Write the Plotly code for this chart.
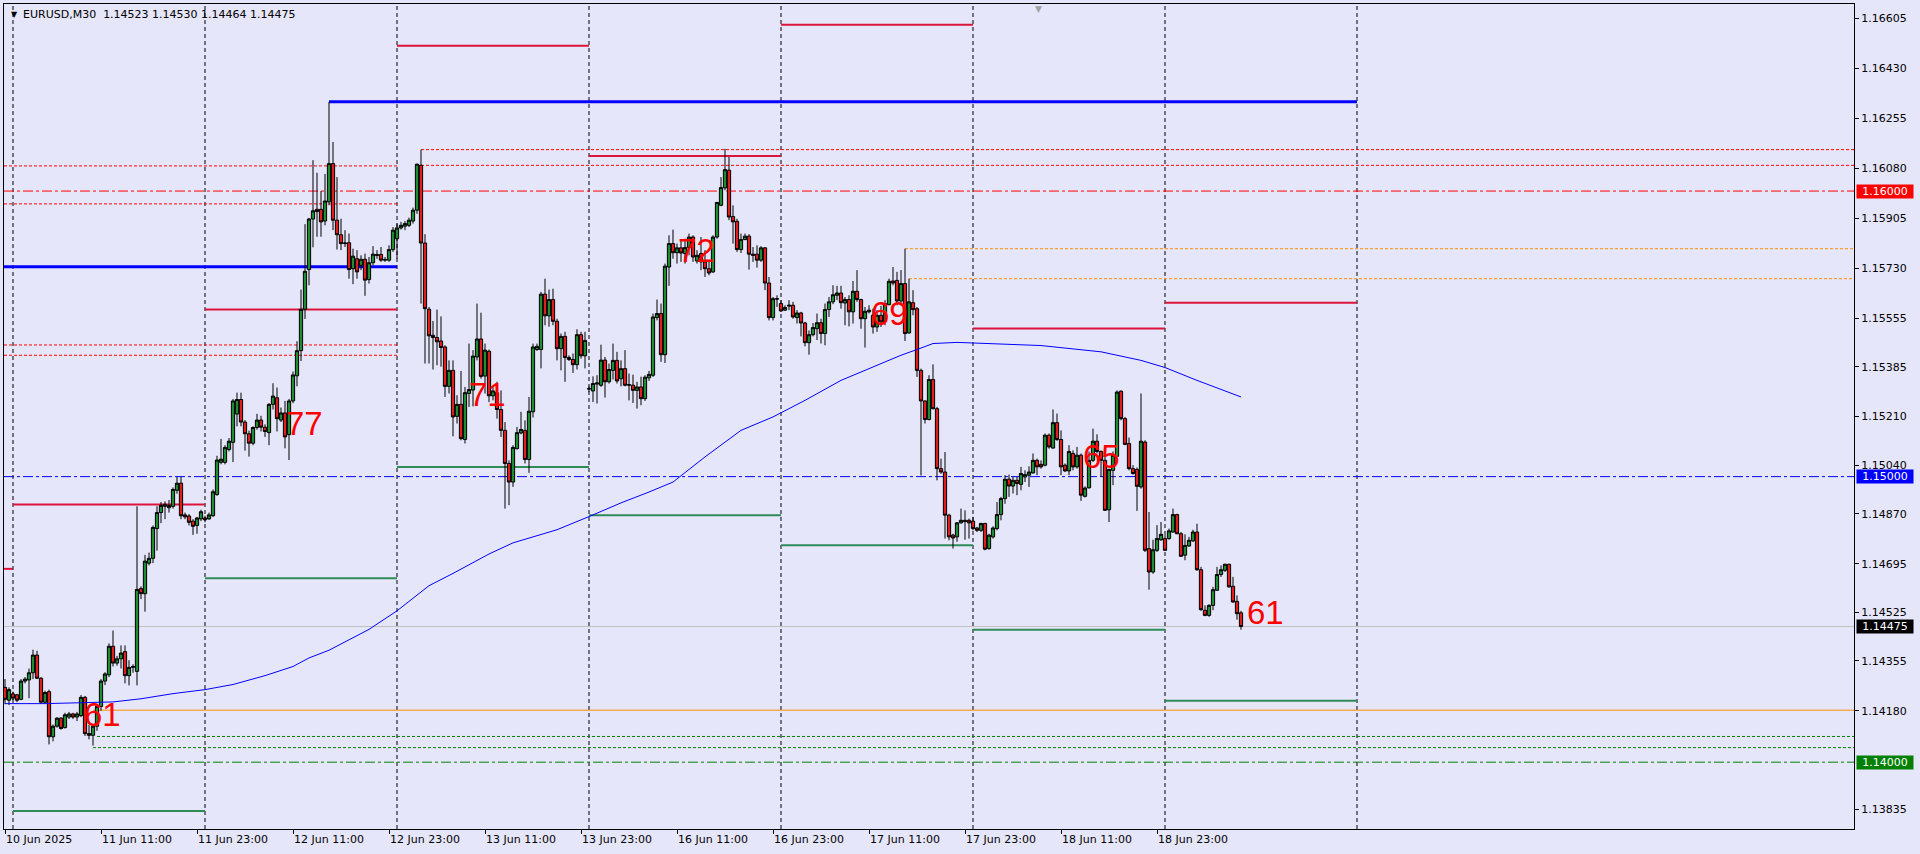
import pandas as pd
import plotly.graph_objects as go

# ---------------- data ----------------
symbol = "EURUSD,M30"

opens = [
 1.14262, 1.14217, 1.14239, 1.14236, 1.14220, 1.14284, 1.14288, 1.14313, 1.14375, 1.14294,
 1.14210, 1.14247, 1.14089, 1.14126, 1.14154, 1.14121, 1.14158, 1.14169, 1.14158, 1.14163,
 1.14227, 1.14100, 1.14094, 1.14126, 1.14195, 1.14284, 1.14306, 1.14406, 1.14347, 1.14362,
 1.14387, 1.14303, 1.14332, 1.14318, 1.14608, 1.14590, 1.14697, 1.14714, 1.14818, 1.14874,
 1.14896, 1.14891, 1.14896, 1.14952, 1.14977, 1.14866, 1.14862, 1.14844, 1.14829, 1.14852,
 1.14855, 1.14852, 1.14863, 1.14937, 1.15050, 1.15050, 1.15095, 1.15120, 1.15219, 1.15270,
 1.15191, 1.15150, 1.15117, 1.15172, 1.15198, 1.15173, 1.15154, 1.15253, 1.15276, 1.15198,
 1.15223, 1.15147, 1.15265, 1.15353, 1.15441, 1.15586, 1.15725, 1.15902, 1.15936, 1.15936,
 1.15895, 1.15962, 1.16096, 1.15898, 1.15847, 1.15816, 1.15819, 1.15728, 1.15763, 1.15740,
 1.15761, 1.15690, 1.15749, 1.15778, 1.15778, 1.15758, 1.15758, 1.15795, 1.15833, 1.15871,
 1.15877, 1.15880, 1.15895, 1.15933, 1.16090, 1.15818, 1.15586, 1.15495, 1.15487, 1.15475,
 1.15454, 1.15316, 1.15372, 1.15211, 1.15253, 1.15130, 1.15291, 1.15303, 1.15419, 1.15482,
 1.15352, 1.15439, 1.15283, 1.15294, 1.15235, 1.15162, 1.15046, 1.14981, 1.15098, 1.15153,
 1.15162, 1.15060, 1.15227, 1.15445, 1.15445, 1.15639, 1.15563, 1.15620, 1.15544, 1.15448,
 1.15491, 1.15417, 1.15410, 1.15392, 1.15497, 1.15423, 1.15308, 1.15300, 1.15324, 1.15320,
 1.15408, 1.15332, 1.15372, 1.15407, 1.15343, 1.15378, 1.15320, 1.15320, 1.15302, 1.15314,
 1.15273, 1.15346, 1.15355, 1.15557, 1.15571, 1.15427, 1.15734, 1.15816, 1.15784, 1.15801,
 1.15781, 1.15802, 1.15839, 1.15755, 1.15781, 1.15752, 1.15728, 1.15717, 1.15839, 1.15950,
 1.16011, 1.16073, 1.15911, 1.15894, 1.15795, 1.15830, 1.15842, 1.15779, 1.15779, 1.15758,
 1.15801, 1.15678, 1.15557, 1.15623, 1.15606, 1.15583, 1.15597, 1.15600, 1.15557, 1.15573,
 1.15538, 1.15469, 1.15497, 1.15518, 1.15539, 1.15501, 1.15585, 1.15612, 1.15635, 1.15643,
 1.15608, 1.15620, 1.15577, 1.15649, 1.15620, 1.15553, 1.15577, 1.15565, 1.15524, 1.15565,
 1.15542, 1.15602, 1.15685, 1.15687, 1.15615, 1.15676, 1.15503, 1.15609, 1.15588, 1.15372,
 1.15265, 1.15200, 1.15340, 1.15238, 1.15028, 1.15016, 1.14865, 1.14795, 1.14789, 1.14838,
 1.14847, 1.14847, 1.14844, 1.14820, 1.14812, 1.14836, 1.14748, 1.14789, 1.14818, 1.14867,
 1.14923, 1.14991, 1.14967, 1.14987, 1.14973, 1.14999, 1.15005, 1.15013, 1.15057, 1.15043,
 1.15040, 1.15145, 1.15100, 1.15189, 1.15130, 1.15040, 1.15020, 1.15081, 1.15034, 1.15075,
 1.14931, 1.14961, 1.15057, 1.15124, 1.15088, 1.15057, 1.14884, 1.15022, 1.15071, 1.15299,
 1.15203, 1.15116, 1.15028, 1.15025, 1.14964, 1.15121, 1.14748, 1.14666, 1.14742, 1.14779,
 1.14783, 1.14783, 1.14806, 1.14867, 1.14800, 1.14725, 1.14757, 1.14775, 1.14806, 1.14674,
 1.14532, 1.14514, 1.14549, 1.14602, 1.14657, 1.14672, 1.14693, 1.14616, 1.14563, 1.14523,
]

highs = [
 1.14291, 1.14262, 1.14247, 1.14239, 1.14291, 1.14298, 1.14328, 1.14394, 1.14390, 1.14298,
 1.14250, 1.14254, 1.14132, 1.14158, 1.14158, 1.14173, 1.14176, 1.14173, 1.14176, 1.14235,
 1.14232, 1.14130, 1.14130, 1.14200, 1.14291, 1.14315, 1.14416, 1.14461, 1.14372, 1.14409,
 1.14409, 1.14357, 1.14343, 1.14896, 1.14616, 1.14726, 1.14734, 1.14829, 1.14896, 1.14911,
 1.14913, 1.14918, 1.14962, 1.14999, 1.14999, 1.14874, 1.14869, 1.14851, 1.14859, 1.14884,
 1.14863, 1.14874, 1.14955, 1.15073, 1.15132, 1.15110, 1.15135, 1.15272, 1.15294, 1.15294,
 1.15198, 1.15161, 1.15176, 1.15220, 1.15213, 1.15183, 1.15257, 1.15327, 1.15312, 1.15242,
 1.15265, 1.15272, 1.15368, 1.15474, 1.15655, 1.15884, 1.15906, 1.16108, 1.16064, 1.16000,
 1.16060, 1.16312, 1.16172, 1.16049, 1.15903, 1.15863, 1.15851, 1.15798, 1.15793, 1.15775,
 1.15781, 1.15769, 1.15807, 1.15793, 1.15804, 1.15769, 1.15810, 1.15874, 1.15886, 1.15892,
 1.15895, 1.15907, 1.15942, 1.16096, 1.16145, 1.15849, 1.15594, 1.15545, 1.15585, 1.15561,
 1.15460, 1.15407, 1.15407, 1.15285, 1.15370, 1.15314, 1.15466, 1.15443, 1.15606, 1.15574,
 1.15466, 1.15445, 1.15314, 1.15332, 1.15302, 1.15191, 1.15057, 1.15110, 1.15174, 1.15227,
 1.15197, 1.15279, 1.15466, 1.15466, 1.15647, 1.15693, 1.15655, 1.15658, 1.15553, 1.15501,
 1.15507, 1.15425, 1.15431, 1.15516, 1.15507, 1.15507, 1.15316, 1.15351, 1.15355, 1.15462,
 1.15419, 1.15396, 1.15466, 1.15437, 1.15407, 1.15443, 1.15361, 1.15357, 1.15332, 1.15350,
 1.15355, 1.15370, 1.15571, 1.15620, 1.15606, 1.15746, 1.15845, 1.15865, 1.15816, 1.15828,
 1.15833, 1.15851, 1.15845, 1.15793, 1.15839, 1.15793, 1.15752, 1.15845, 1.15962, 1.16049,
 1.16148, 1.16119, 1.15950, 1.15903, 1.15851, 1.15851, 1.15849, 1.15804, 1.15810, 1.15807,
 1.15804, 1.15699, 1.15629, 1.15635, 1.15618, 1.15600, 1.15618, 1.15612, 1.15583, 1.15577,
 1.15542, 1.15512, 1.15538, 1.15571, 1.15553, 1.15606, 1.15629, 1.15670, 1.15668, 1.15668,
 1.15629, 1.15635, 1.15685, 1.15723, 1.15623, 1.15594, 1.15600, 1.15588, 1.15583, 1.15598,
 1.15618, 1.15693, 1.15734, 1.15717, 1.15723, 1.15798, 1.15693, 1.15653, 1.15594, 1.15378,
 1.15267, 1.15355, 1.15393, 1.15244, 1.15063, 1.15086, 1.14870, 1.14800, 1.14841, 1.14888,
 1.14882, 1.14853, 1.14859, 1.14824, 1.14838, 1.14838, 1.14800, 1.14826, 1.14911, 1.14929,
 1.15005, 1.15007, 1.14999, 1.14999, 1.15034, 1.15022, 1.15036, 1.15081, 1.15063, 1.15057,
 1.15151, 1.15151, 1.15235, 1.15221, 1.15162, 1.15046, 1.15110, 1.15092, 1.15104, 1.15081,
 1.14966, 1.15088, 1.15168, 1.15148, 1.15092, 1.15069, 1.15028, 1.15088, 1.15302, 1.15302,
 1.15209, 1.15137, 1.15040, 1.15032, 1.15291, 1.15127, 1.14876, 1.14779, 1.14830, 1.14841,
 1.14795, 1.14818, 1.14888, 1.14870, 1.14806, 1.14798, 1.14789, 1.14814, 1.14835, 1.14684,
 1.14549, 1.14553, 1.14614, 1.14684, 1.14689, 1.14695, 1.14695, 1.14649, 1.14584, 1.14530,
]

lows = [
 1.14203, 1.14200, 1.14217, 1.14210, 1.14217, 1.14276, 1.14224, 1.14291, 1.14291, 1.14205,
 1.14205, 1.14062, 1.14073, 1.14121, 1.14114, 1.14118, 1.14151, 1.14151, 1.14144, 1.14158,
 1.14092, 1.14080, 1.14058, 1.14110, 1.14180, 1.14270, 1.14298, 1.14335, 1.14338, 1.14328,
 1.14276, 1.14269, 1.14313, 1.14269, 1.14571, 1.14527, 1.14689, 1.14697, 1.14741, 1.14837,
 1.14851, 1.14874, 1.14888, 1.14940, 1.14851, 1.14851, 1.14829, 1.14796, 1.14800, 1.14844,
 1.14840, 1.14849, 1.14859, 1.14933, 1.15043, 1.15043, 1.15088, 1.15051, 1.15176, 1.15176,
 1.15091, 1.15070, 1.15110, 1.15164, 1.15158, 1.15139, 1.15110, 1.15235, 1.15158, 1.15191,
 1.15099, 1.15058, 1.15257, 1.15316, 1.15405, 1.15552, 1.15670, 1.15803, 1.15840, 1.15840,
 1.15880, 1.15950, 1.15863, 1.15795, 1.15793, 1.15804, 1.15693, 1.15674, 1.15693, 1.15723,
 1.15633, 1.15676, 1.15740, 1.15763, 1.15752, 1.15752, 1.15752, 1.15787, 1.15763, 1.15865,
 1.15863, 1.15874, 1.15886, 1.15920, 1.15606, 1.15396, 1.15396, 1.15375, 1.15390, 1.15385,
 1.15279, 1.15291, 1.15141, 1.15186, 1.15127, 1.15116, 1.15244, 1.15246, 1.15407, 1.15343,
 1.15291, 1.15261, 1.15267, 1.15203, 1.15139, 1.14888, 1.14900, 1.14964, 1.15095, 1.15148,
 1.15046, 1.15013, 1.15207, 1.15440, 1.15379, 1.15530, 1.15525, 1.15530, 1.15407, 1.15372,
 1.15332, 1.15405, 1.15363, 1.15375, 1.15413, 1.15379, 1.15297, 1.15261, 1.15256, 1.15314,
 1.15277, 1.15326, 1.15340, 1.15326, 1.15316, 1.15316, 1.15267, 1.15258, 1.15238, 1.15250,
 1.15265, 1.15335, 1.15349, 1.15547, 1.15402, 1.15398, 1.15668, 1.15763, 1.15746, 1.15752,
 1.15746, 1.15775, 1.15752, 1.15746, 1.15723, 1.15699, 1.15705, 1.15713, 1.15833, 1.15947,
 1.16003, 1.15898, 1.15816, 1.15787, 1.15783, 1.15828, 1.15725, 1.15752, 1.15732, 1.15752,
 1.15653, 1.15547, 1.15547, 1.15594, 1.15577, 1.15580, 1.15583, 1.15553, 1.15536, 1.15491,
 1.15456, 1.15427, 1.15491, 1.15478, 1.15466, 1.15460, 1.15559, 1.15604, 1.15618, 1.15588,
 1.15530, 1.15526, 1.15536, 1.15612, 1.15518, 1.15452, 1.15571, 1.15501, 1.15507, 1.15524,
 1.15530, 1.15600, 1.15670, 1.15600, 1.15600, 1.15475, 1.15501, 1.15565, 1.15349, 1.15004,
 1.15186, 1.15197, 1.15235, 1.14987, 1.15010, 1.14783, 1.14777, 1.14748, 1.14772, 1.14835,
 1.14779, 1.14783, 1.14812, 1.14806, 1.14806, 1.14742, 1.14744, 1.14783, 1.14812, 1.14847,
 1.14905, 1.14929, 1.14941, 1.14935, 1.14952, 1.14981, 1.14964, 1.15011, 1.15005, 1.15028,
 1.15036, 1.15098, 1.15098, 1.15125, 1.15005, 1.15016, 1.15005, 1.15022, 1.15028, 1.14915,
 1.14927, 1.14958, 1.15051, 1.15081, 1.14999, 1.14880, 1.14841, 1.14970, 1.15069, 1.15197,
 1.15110, 1.15022, 1.15007, 1.14880, 1.14958, 1.14736, 1.14604, 1.14660, 1.14736, 1.14775,
 1.14740, 1.14779, 1.14803, 1.14798, 1.14719, 1.14707, 1.14754, 1.14771, 1.14670, 1.14530,
 1.14511, 1.14509, 1.14532, 1.14600, 1.14649, 1.14666, 1.14611, 1.14558, 1.14499, 1.14464,
]

closes = [
 1.14220, 1.14254, 1.14224, 1.14217, 1.14284, 1.14291, 1.14313, 1.14375, 1.14294, 1.14210,
 1.14244, 1.14089, 1.14126, 1.14154, 1.14118, 1.14166, 1.14169, 1.14158, 1.14169, 1.14227,
 1.14100, 1.14094, 1.14126, 1.14195, 1.14284, 1.14309, 1.14406, 1.14347, 1.14362, 1.14382,
 1.14303, 1.14332, 1.14335, 1.14605, 1.14590, 1.14704, 1.14714, 1.14822, 1.14874, 1.14899,
 1.14903, 1.14899, 1.14955, 1.14977, 1.14863, 1.14859, 1.14840, 1.14826, 1.14855, 1.14877,
 1.14849, 1.14866, 1.14947, 1.15058, 1.15061, 1.15102, 1.15124, 1.15265, 1.15270, 1.15191,
 1.15150, 1.15117, 1.15172, 1.15198, 1.15173, 1.15158, 1.15253, 1.15282, 1.15203, 1.15223,
 1.15139, 1.15265, 1.15356, 1.15441, 1.15586, 1.15719, 1.15902, 1.15931, 1.15928, 1.15892,
 1.15965, 1.16096, 1.15898, 1.15847, 1.15816, 1.15818, 1.15725, 1.15772, 1.15717, 1.15761,
 1.15688, 1.15749, 1.15779, 1.15775, 1.15758, 1.15760, 1.15795, 1.15863, 1.15871, 1.15880,
 1.15886, 1.15898, 1.15933, 1.16094, 1.15818, 1.15588, 1.15493, 1.15487, 1.15472, 1.15452,
 1.15316, 1.15372, 1.15209, 1.15253, 1.15133, 1.15294, 1.15305, 1.15422, 1.15482, 1.15351,
 1.15443, 1.15283, 1.15300, 1.15235, 1.15162, 1.15046, 1.14981, 1.15102, 1.15154, 1.15165,
 1.15060, 1.15229, 1.15454, 1.15456, 1.15639, 1.15563, 1.15620, 1.15544, 1.15448, 1.15491,
 1.15417, 1.15410, 1.15392, 1.15497, 1.15423, 1.15477, 1.15307, 1.15326, 1.15328, 1.15408,
 1.15332, 1.15375, 1.15407, 1.15335, 1.15378, 1.15320, 1.15322, 1.15302, 1.15314, 1.15273,
 1.15348, 1.15358, 1.15559, 1.15571, 1.15427, 1.15737, 1.15816, 1.15784, 1.15801, 1.15783,
 1.15802, 1.15839, 1.15769, 1.15775, 1.15752, 1.15728, 1.15713, 1.15839, 1.15960, 1.16012,
 1.16075, 1.15909, 1.15892, 1.15795, 1.15830, 1.15842, 1.15779, 1.15775, 1.15758, 1.15801,
 1.15678, 1.15557, 1.15623, 1.15622, 1.15580, 1.15592, 1.15600, 1.15559, 1.15573, 1.15538,
 1.15469, 1.15497, 1.15522, 1.15539, 1.15501, 1.15585, 1.15612, 1.15637, 1.15643, 1.15609,
 1.15620, 1.15577, 1.15649, 1.15620, 1.15553, 1.15579, 1.15583, 1.15524, 1.15565, 1.15542,
 1.15606, 1.15684, 1.15678, 1.15615, 1.15676, 1.15501, 1.15612, 1.15585, 1.15372, 1.15265,
 1.15200, 1.15340, 1.15238, 1.15028, 1.15016, 1.14865, 1.14789, 1.14785, 1.14838, 1.14847,
 1.14843, 1.14838, 1.14818, 1.14812, 1.14836, 1.14746, 1.14795, 1.14820, 1.14867, 1.14923,
 1.14991, 1.14967, 1.14987, 1.14976, 1.15011, 1.15007, 1.15016, 1.15057, 1.15034, 1.15034,
 1.15145, 1.15104, 1.15189, 1.15130, 1.15034, 1.15020, 1.15088, 1.15034, 1.15075, 1.14935,
 1.14960, 1.15057, 1.15124, 1.15088, 1.15057, 1.14882, 1.15025, 1.15075, 1.15296, 1.15203,
 1.15113, 1.15028, 1.15011, 1.14966, 1.15124, 1.14742, 1.14666, 1.14744, 1.14783, 1.14798,
 1.14742, 1.14810, 1.14867, 1.14800, 1.14721, 1.14759, 1.14777, 1.14806, 1.14674, 1.14534,
 1.14514, 1.14549, 1.14604, 1.14657, 1.14674, 1.14693, 1.14614, 1.14561, 1.14520, 1.14475,
]

# moving average, read at selected bars (bar number, value)
ma_bar = [0, 10, 27, 34, 42, 50, 57, 65, 72, 76, 81, 91, 98, 106, 112, 121, 127, 138, 146,
          154, 161, 167, 175, 184, 192, 200, 209, 217, 224, 228, 232, 238, 245, 259, 274,
          284, 290, 298, 309]
ma_val = [1.14205, 1.14205, 1.14211, 1.14222, 1.14240, 1.14254, 1.14272, 1.14303, 1.14335,
          1.14365, 1.14392, 1.14465, 1.14530, 1.14618, 1.14661, 1.14729, 1.14768, 1.14814,
          1.14860, 1.14908, 1.14946, 1.14981, 1.15069, 1.15162, 1.15209, 1.15267, 1.15337,
          1.15384, 1.15425, 1.15445, 1.15466, 1.15470, 1.15466, 1.15459, 1.15437, 1.15407,
          1.15382, 1.15337, 1.15279]

# time axis labels
tick_times = ["2025-06-10 23:00", "2025-06-11 11:00", "2025-06-11 23:00", "2025-06-12 11:00",
              "2025-06-12 23:00", "2025-06-13 11:00", "2025-06-13 23:00", "2025-06-16 11:00",
              "2025-06-16 23:00", "2025-06-17 11:00", "2025-06-17 23:00", "2025-06-18 11:00",
              "2025-06-18 23:00"]
tick_text = ["10 Jun 2025", "11 Jun 11:00", "11 Jun 23:00", "12 Jun 11:00", "12 Jun 23:00",
             "13 Jun 11:00", "13 Jun 23:00", "16 Jun 11:00", "16 Jun 23:00", "17 Jun 11:00",
             "17 Jun 23:00", "18 Jun 11:00", "18 Jun 23:00"]
day_starts = ["2025-06-11", "2025-06-12", "2025-06-13", "2025-06-16", "2025-06-17",
              "2025-06-18", "2025-06-19", "2025-06-20"]

# price axis labels
price_ticks = [1.16605, 1.16430, 1.16255, 1.16080, 1.15905, 1.15730, 1.15555, 1.15385,
               1.15210, 1.15040, 1.14870, 1.14695, 1.14525, 1.14355, 1.14180, 1.13835]

# daily high / low segments (price, from, to)
day_high_price = [1.14677, 1.14902, 1.15585, 1.16509, 1.16123, 1.16582, 1.15519, 1.15609]
day_high_from = [None, "2025-06-11", "2025-06-12", "2025-06-13", "2025-06-16",
                 "2025-06-17", "2025-06-18", "2025-06-19"]
day_high_to = ["2025-06-11", "2025-06-12", "2025-06-13", "2025-06-16", "2025-06-17",
               "2025-06-18", "2025-06-19", "2025-06-20"]
day_low_price = [1.13829, 1.14644, 1.15034, 1.14865, 1.14760, 1.14464, 1.14215]
day_low_from = ["2025-06-11", "2025-06-12", "2025-06-13", "2025-06-16", "2025-06-17",
                "2025-06-18", "2025-06-19"]
day_low_to = ["2025-06-12", "2025-06-13", "2025-06-16", "2025-06-17", "2025-06-18",
              "2025-06-19", "2025-06-20"]

# thick blue levels
blue_price = [1.15735, 1.16313]
blue_from = [None, "2025-06-12 15:30"]
blue_to = ["2025-06-13", "2025-06-20"]

# dotted levels
red_dot_price = [1.16088, 1.15955, 1.15461, 1.15425, 1.16145, 1.16090]
red_dot_from = [None, None, None, None, "2025-06-13 03:00", "2025-06-13 03:00"]
red_dot_to = ["2025-06-13", "2025-06-13", "2025-06-13", "2025-06-13", None, None]
orange_dot_price = [1.15798, 1.15693]
orange_dot_from = ["2025-06-17 15:30", "2025-06-17 16:00"]
green_dot_price = [1.14090, 1.14051]
green_dot_from = ["2025-06-11 10:30", "2025-06-11 10:00"]
orange_level_price = 1.14182
orange_level_from = "2025-06-11 10:00"

# round-number levels
round_levels = [1.16000, 1.15000, 1.14000]
bid_price = closes[-1]

# red numbers written on the chart (text, bar number, price)
note_text = ["61", "77", "71", "72", "69", "65", "61"]
note_bar = [24.4, 74.9, 120.7, 172.9, 221.0, 274.0, 315.0]
note_price = [1.14168, 1.15186, 1.15288, 1.15793, 1.15572, 1.15072, 1.14524]

# ---------------- figure ----------------
first_bar = pd.Timestamp("2025-06-10 23:00")
slots = pd.date_range(first_bar, periods=48 * 16, freq="30min")
bar_times = [t for t in slots if t.weekday() < 5]
bar_pos = {t: k for k, t in enumerate(bar_times)}

X_LO, X_HI = -0.25, 462.25
Y_LO, Y_HI = 1.13766, 1.16655


def bx(t, default):
    if t is None:
        return default
    return bar_pos[pd.Timestamp(t)]


UP = "#1E8C32"
DOWN = "#E01E1E"
FONT = "DejaVu Sans"

fig = go.Figure()
fig.add_trace(go.Candlestick(
    x=list(range(len(opens))), open=opens, high=highs, low=lows, close=closes,
    increasing=dict(line=dict(color="#000000", width=1), fillcolor=UP),
    decreasing=dict(line=dict(color="#000000", width=1), fillcolor=DOWN),
    whiskerwidth=0, hoverinfo="skip", showlegend=False,
))
fig.add_trace(go.Scatter(x=ma_bar, y=ma_val, mode="lines",
                         line=dict(color="#0000FF", width=1), hoverinfo="skip",
                         showlegend=False))

shapes = []


def hline(price, t0, t1, color, width, dash="solid"):
    shapes.append(dict(type="line", xref="x", yref="y", layer="below",
                       x0=bx(t0, X_LO), x1=bx(t1, X_HI), y0=price, y1=price,
                       line=dict(color=color, width=width, dash=dash)))


# day separators
for d in day_starts:
    p = bar_pos[pd.Timestamp(d)]
    shapes.append(dict(type="line", xref="x", yref="paper", layer="below",
                       x0=p, x1=p, y0=0, y1=1,
                       line=dict(color="#000000", width=1, dash="4px,3px")))

hline(bid_price, None, None, "#C0C0C0", 1)
for pr, c in zip(round_levels, ["#FF0000", "#0000FF", "#008000"]):
    hline(pr, None, None, c, 1, "10px,3px,3px,3px")
for pr, a, b in zip(red_dot_price, red_dot_from, red_dot_to):
    hline(pr, a, b, "#FF0000", 1, "3px,2px")
for pr, a in zip(orange_dot_price, orange_dot_from):
    hline(pr, a, None, "#FF8C00", 1, "3px,2px")
for pr, a in zip(green_dot_price, green_dot_from):
    hline(pr, a, None, "#008000", 1, "3px,2px")
hline(orange_level_price, orange_level_from, None, "#FF8C00", 1)
for pr, a, b in zip(day_high_price, day_high_from, day_high_to):
    hline(pr, a, b, "#DC143C", 2)
for pr, a, b in zip(day_low_price, day_low_from, day_low_to):
    hline(pr, a, b, "#2E8B57", 2)
for pr, a, b in zip(blue_price, blue_from, blue_to):
    hline(pr, a, b, "#0000FF", 3)

annotations = []
# red numbers
for t, b, p in zip(note_text, note_bar, note_price):
    annotations.append(dict(x=b, y=p, xref="x", yref="y", text=t, showarrow=False,
                            xanchor="center", yanchor="middle",
                            font=dict(family="Liberation Sans, Arial", size=33,
                                      color="#FF0000")))
# time labels
for t, s in zip(tick_times, tick_text):
    annotations.append(dict(x=bar_pos[pd.Timestamp(t)], y=0, xref="x", yref="paper",
                            text=s, showarrow=False, xanchor="left", yanchor="top",
                            yshift=-2, xshift=-1,
                            font=dict(family=FONT, size=11, color="#000000")))
# coloured price labels on the right
for pr, bg in [(1.16000, "#FF0000"), (1.15000, "#0000FF"), (bid_price, "#000000"),
               (1.14000, "#008000")]:
    annotations.append(dict(x=1, y=pr, xref="paper", yref="y", text=f"{pr:.5f}",
                            showarrow=False, xanchor="left", yanchor="middle",
                            xshift=2, width=54, height=11, borderpad=1, align="center",
                            bgcolor=bg, font=dict(family=FONT, size=11, color="#FFFFFF")))
# header
annotations.append(dict(x=0, y=1, xref="paper", yref="paper", text="\u25BC",
                        showarrow=False, xanchor="left", yanchor="middle",
                        xshift=5, yshift=-10,
                        font=dict(family=FONT, size=8, color="#000000")))
header = (f"{symbol}\u00a0\u00a0{opens[-1]:.5f} {highs[-1]:.5f} "
          f"{lows[-1]:.5f} {closes[-1]:.5f}")
annotations.append(dict(x=0, y=1, xref="paper", yref="paper", text=header,
                        showarrow=False, xanchor="left", yanchor="middle",
                        xshift=17, yshift=-10,
                        font=dict(family=FONT, size=11, color="#000000")))
# chart-shift marker
annotations.append(dict(x=258.25, y=1, xref="x", yref="paper", text="\u25BC",
                        showarrow=False, xanchor="center", yanchor="top", yshift=2,
                        font=dict(family=FONT, size=9, color="#A0A0A0")))

fig.update_layout(
    width=1920, height=854,
    margin=dict(l=4, r=66, t=4, b=25),
    paper_bgcolor="#E6E6FA", plot_bgcolor="#E6E6FA",
    showlegend=False,
    boxgap=0.1, boxgroupgap=0.1,
    shapes=shapes, annotations=annotations,
    xaxis=dict(range=[X_LO, X_HI], rangeslider=dict(visible=False), showgrid=False,
               zeroline=False, showline=True, mirror=True, linecolor="#000000",
               linewidth=1, ticks="outside", ticklen=4, tickcolor="#000000",
               tickvals=[bar_pos[pd.Timestamp(t)] for t in tick_times],
               showticklabels=False, fixedrange=True),
    yaxis=dict(range=[Y_LO, Y_HI], side="right", showgrid=False, zeroline=False,
               showline=True, mirror=True, linecolor="#000000", linewidth=1,
               ticks="outside", ticklen=4, tickcolor="#000000",
               tickvals=price_ticks, ticktext=[f"{v:.5f}" for v in price_ticks],
               tickfont=dict(family=FONT, size=11, color="#000000"), fixedrange=True),
)

fig.write_html("out.html", config={"displayModeBar": False},
               post_script="document.body.style.margin='0';"
                           "document.body.style.overflow='hidden';")
